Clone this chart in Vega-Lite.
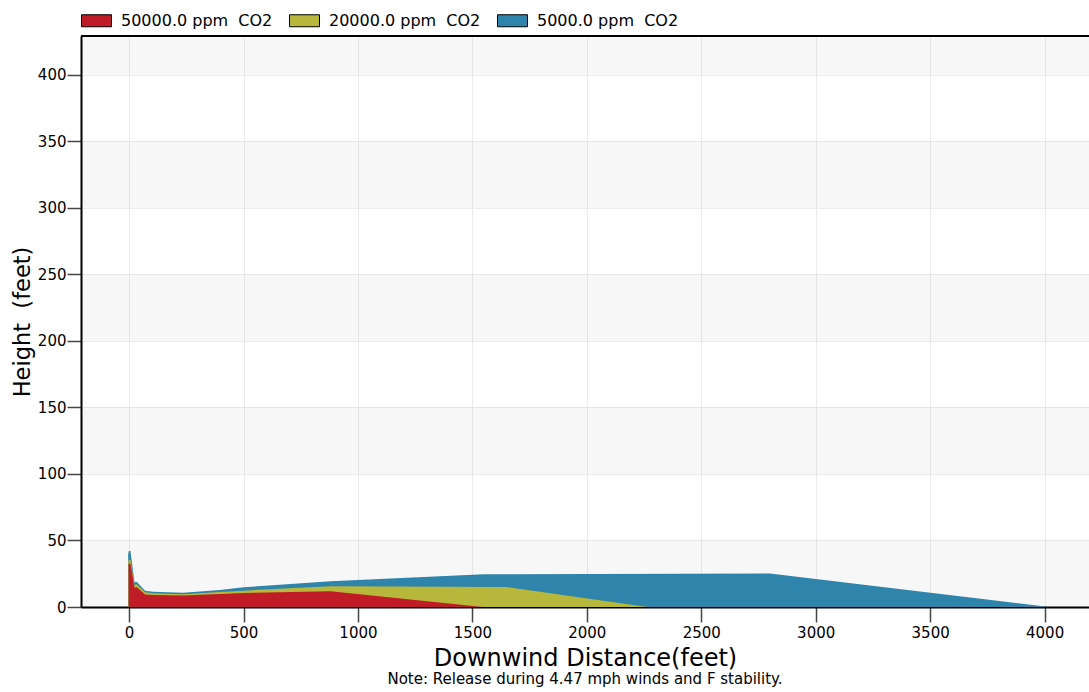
{
  "$schema": "https://vega.github.io/schema/vega-lite/v6.json",
  "width": 1008,
  "height": 571,
  "autosize": {"type": "none"},
  "padding": {"left": 81, "top": 36, "right": 0, "bottom": 85},
  "background": "white",
  "title": {
    "text": "Note: Release during 4.47 mph winds and F stability.",
    "orient": "bottom",
    "anchor": "middle",
    "fontSize": 15,
    "fontWeight": "normal",
    "color": "black",
    "offset": 2
  },
  "config": {
    "font": "DejaVu Sans",
    "view": {"stroke": null},
    "axis": {
      "labelColor": "black",
      "labelFontSize": 15,
      "labelFlush": false,
      "domainColor": "black",
      "domainWidth": 2,
      "tickColor": "#444444",
      "tickWidth": 1.5,
      "gridColor": "#ebebeb",
      "gridWidth": 1,
      "titleFontWeight": "normal",
      "titleColor": "black"
    },
    "axisX": {"tickSize": 15, "labelPadding": 3, "titleFontSize": 24, "titlePadding": 6},
    "axisY": {"tickSize": 14, "labelPadding": 1, "titleFontSize": 22.5, "titlePadding": 3},
    "legend": {
      "orient": "none",
      "legendX": 0,
      "legendY": -31,
      "direction": "horizontal",
      "title": null,
      "padding": 0,
      "symbolType": "M-1,-0.4H1V0.4H-1Z",
      "symbolSize": 900,
      "symbolStrokeColor": "black",
      "symbolStrokeWidth": 1,
      "symbolOpacity": 1,
      "labelFontSize": 16,
      "labelColor": "black",
      "labelOffset": 9,
      "columnPadding": 14
    }
  },
  "datasets": {
    "bands": [
      {"h": 0, "h2": 50},
      {"h": 100, "h2": 150},
      {"h": 200, "h2": 250},
      {"h": 300, "h2": 350},
      {"h": 400, "h2": 429}
    ],
    "plume": [
      {"series": "5000.0 ppm\u00a0 CO2", "x": -4, "h": 39.5},
      {"series": "5000.0 ppm\u00a0 CO2", "x": -1, "h": 42},
      {"series": "5000.0 ppm\u00a0 CO2", "x": 6, "h": 42},
      {"series": "5000.0 ppm\u00a0 CO2", "x": 24, "h": 18.5},
      {"series": "5000.0 ppm\u00a0 CO2", "x": 33, "h": 19},
      {"series": "5000.0 ppm\u00a0 CO2", "x": 70, "h": 12.3},
      {"series": "5000.0 ppm\u00a0 CO2", "x": 105, "h": 11.5},
      {"series": "5000.0 ppm\u00a0 CO2", "x": 236, "h": 10.8},
      {"series": "5000.0 ppm\u00a0 CO2", "x": 396, "h": 12.8},
      {"series": "5000.0 ppm\u00a0 CO2", "x": 500, "h": 14.8},
      {"series": "5000.0 ppm\u00a0 CO2", "x": 880, "h": 19.3},
      {"series": "5000.0 ppm\u00a0 CO2", "x": 1550, "h": 24.6},
      {"series": "5000.0 ppm\u00a0 CO2", "x": 2800, "h": 25.1},
      {"series": "5000.0 ppm\u00a0 CO2", "x": 4020, "h": 0},
      {"series": "20000.0 ppm\u00a0 CO2", "x": -3, "h": 35.5},
      {"series": "20000.0 ppm\u00a0 CO2", "x": 6, "h": 35.5},
      {"series": "20000.0 ppm\u00a0 CO2", "x": 24, "h": 16.5},
      {"series": "20000.0 ppm\u00a0 CO2", "x": 33, "h": 17},
      {"series": "20000.0 ppm\u00a0 CO2", "x": 70, "h": 11},
      {"series": "20000.0 ppm\u00a0 CO2", "x": 105, "h": 10.3},
      {"series": "20000.0 ppm\u00a0 CO2", "x": 236, "h": 9.6},
      {"series": "20000.0 ppm\u00a0 CO2", "x": 396, "h": 11.2},
      {"series": "20000.0 ppm\u00a0 CO2", "x": 500, "h": 12.3},
      {"series": "20000.0 ppm\u00a0 CO2", "x": 880, "h": 15.5},
      {"series": "20000.0 ppm\u00a0 CO2", "x": 1650, "h": 15},
      {"series": "20000.0 ppm\u00a0 CO2", "x": 2265, "h": 0},
      {"series": "50000.0 ppm\u00a0 CO2", "x": -2, "h": 32.5},
      {"series": "50000.0 ppm\u00a0 CO2", "x": 6, "h": 32.5},
      {"series": "50000.0 ppm\u00a0 CO2", "x": 24, "h": 14.5},
      {"series": "50000.0 ppm\u00a0 CO2", "x": 33, "h": 15},
      {"series": "50000.0 ppm\u00a0 CO2", "x": 70, "h": 9.3},
      {"series": "50000.0 ppm\u00a0 CO2", "x": 105, "h": 9},
      {"series": "50000.0 ppm\u00a0 CO2", "x": 236, "h": 8.6},
      {"series": "50000.0 ppm\u00a0 CO2", "x": 396, "h": 9.8},
      {"series": "50000.0 ppm\u00a0 CO2", "x": 500, "h": 10.5},
      {"series": "50000.0 ppm\u00a0 CO2", "x": 880, "h": 11.8},
      {"series": "50000.0 ppm\u00a0 CO2", "x": 1545, "h": 0}
    ]
  },
  "layer": [
    {
      "data": {"name": "bands"},
      "mark": {"type": "rect", "fill": "black", "fillOpacity": 0.03},
      "encoding": {
        "y": {"field": "h", "type": "quantitative", "scale": {"domain": [0, 429], "nice": false},
              "axis": {"values": [0, 50, 100, 150, 200, 250, 300, 350, 400], "title": "Height\u00a0 (feet)"}},
        "y2": {"field": "h2"}
      }
    },
    {
      "data": {"name": "plume"},
      "mark": {"type": "area", "opacity": 1, "interpolate": "linear"},
      "encoding": {
        "x": {"field": "x", "type": "quantitative", "scale": {"domain": [-210, 4194], "nice": false, "zero": false},
              "axis": {"values": [0, 500, 1000, 1500, 2000, 2500, 3000, 3500, 4000], "format": "d", "title": "Downwind Distance(feet)"}},
        "y": {"field": "h", "type": "quantitative", "stack": null, "scale": {"domain": [0, 429], "nice": false},
              "axis": {"values": [0, 50, 100, 150, 200, 250, 300, 350, 400], "title": "Height\u00a0 (feet)"}},
        "color": {"field": "series", "type": "nominal",
                  "scale": {"domain": ["50000.0 ppm\u00a0 CO2", "20000.0 ppm\u00a0 CO2", "5000.0 ppm\u00a0 CO2"], "range": ["#c01c28", "#b7b73b", "#2e84aa"]}}
      }
    },
    {
      "data": {"values": [{}]},
      "mark": {"type": "rule", "color": "black", "strokeWidth": 2},
      "encoding": {
        "y": {"datum": 429, "type": "quantitative",
              "axis": {"values": [0, 50, 100, 150, 200, 250, 300, 350, 400], "title": "Height\u00a0 (feet)"}}
      }
    }
  ]
}
